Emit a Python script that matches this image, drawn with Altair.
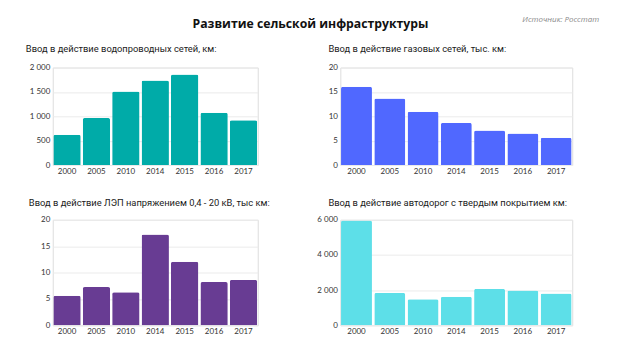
import altair as alt
import pandas as pd

years = ["2000", "2005", "2010", "2014", "2015", "2016", "2017"]
water = [620, 965, 1510, 1735, 1857, 1075, 918]
gas = [16.05, 13.67, 10.95, 8.64, 7.07, 6.46, 5.58]
power = [5.6, 7.25, 6.25, 17.2, 12.05, 8.2, 8.6]
roads = [5960, 1840, 1476, 1629, 2070, 1974, 1802]

main_title = "Развитие сельской инфраструктуры"
source = "Источник: Росстат"
titles = [
    "Ввод в действие  водопроводных сетей, км:",
    "Ввод в действие газовых сетей, тыс. км:",
    "Ввод в действие ЛЭП напряжением 0,4 - 20 кВ, тыс км:",
    "Ввод в действие автодорог с твердым покрытием км:",
]
colors = ["#00ABA8", "#5068FF", "#683C93", "#5DDFE8"]

LABEL_EXPR = "replace(format(datum.value, ','), ',', ' ')"


def text_layer(txt, x, y, size, weight="normal", style="normal", color="#1a1a1a",
               align="left", font="Open Sans"):
    return alt.Chart(pd.DataFrame({"t": [txt]})).mark_text(
        font=font, fontSize=size, fontWeight=weight, fontStyle=style,
        color=color, align=align, baseline="middle",
    ).encode(text="t:N", x=alt.value(x), y=alt.value(y))


def panel(values, color, width, height, domain, ticks, extras):
    df = pd.DataFrame({"year": years, "value": values})
    bars = (
        alt.Chart(df)
        .mark_bar(color=color, cornerRadiusTopLeft=2, cornerRadiusTopRight=2)
        .encode(
            x=alt.X(
                "year:N", sort=years, title=None,
                scale=alt.Scale(paddingInner=0.07, paddingOuter=0.02),
                axis=alt.Axis(labelAngle=0, domain=False, ticks=False, grid=False, labelPadding=2,
                              labelFontSize=8, labelColor="#333", labelFont="Lato"),
            ),
            y=alt.Y(
                "value:Q", title=None, scale=alt.Scale(domain=domain, nice=False),
                axis=alt.Axis(values=ticks, domain=False, ticks=False, labelPadding=3,
                              labelFontSize=8, labelColor="#333", labelFont="Lato",
                              gridColor="#ebebeb", labelExpr=LABEL_EXPR),
            ),
        )
    )
    return alt.layer(bars, *extras).properties(width=width, height=height)


SUB = dict(size=9.4, font="Roboto")

p1 = panel(water, colors[0], 206, 98, [0, 2000], [0, 500, 1000, 1500, 2000], [
    text_layer(titles[0], -27, -19, **SUB),
    text_layer(main_title, 259, -44, 12.3, weight="bold", color="#111", align="center"),
    text_layer(source, 549, -48, 8.0, style="italic", color="#8a8a8a", align="right"),
])
p2 = panel(gas, colors[1], 233, 98, [0, 20], [0, 5, 10, 15, 20], [
    text_layer(titles[1], -12, -19, **SUB),
])
p3 = panel(power, colors[2], 206, 106, [0, 20], [0, 5, 10, 15, 20], [
    text_layer(titles[2], -24, -17, **SUB),
])
p4 = panel(roads, colors[3], 233, 106, [0, 6000], [0, 2000, 4000, 6000], [
    text_layer(titles[3], -12, -17, **SUB),
])

chart = (
    alt.concat(p1, p2, p3, p4, columns=2, bounds="flush", align="each",
               spacing={"column": 83, "row": 55})
    .properties(padding={"left": 25, "top": 14, "right": 20, "bottom": 13})
    .configure_view(strokeWidth=0)
    .configure(background="white")
)

chart.save("out.html", embed_options={"renderer": "svg", "actions": False})
